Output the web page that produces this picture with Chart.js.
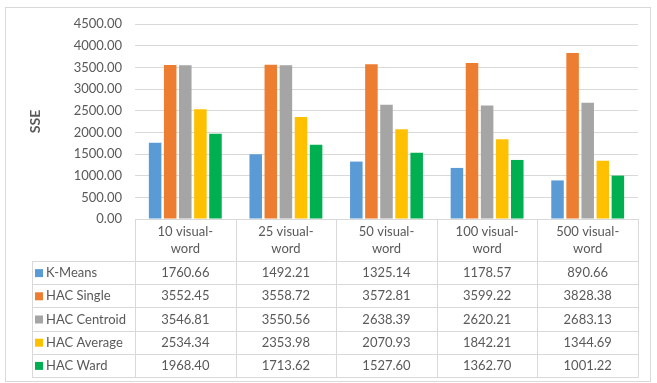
<!DOCTYPE html>
<html>
<head>
<meta charset="utf-8">
<script src="https://cdn.jsdelivr.net/npm/chart.js@4"></script>
<style>
  html, body { margin: 0; padding: 0; background: #fff; }
  #wrap { width: 657px; height: 383px; position: relative; }
</style>
</head>
<body>
<div id="wrap"><canvas id="sseChart"></canvas></div>
<script>
// data
const categories = [['10 visual-', 'word'], ['25 visual-', 'word'], ['50 visual-', 'word'], ['100 visual-', 'word'], ['500 visual-', 'word']];
const seriesNames = ['K-Means', 'HAC Single', 'HAC Centroid', 'HAC Average', 'HAC Ward'];
const kMeans = [1760.66, 1492.21, 1325.14, 1178.57, 890.66];
const hacSingle = [3552.45, 3558.72, 3572.81, 3599.22, 3828.38];
const hacCentroid = [3546.81, 3550.56, 2638.39, 2620.21, 2683.13];
const hacAverage = [2534.34, 2353.98, 2070.93, 1842.21, 1344.69];
const hacWard = [1968.40, 1713.62, 1527.60, 1362.70, 1001.22];
const yMin = 0, yMax = 4500, yStep = 500;

const colors = ['#5B9BD5', '#ED7D31', '#A5A5A5', '#FFC000', '#00B050'];
const allSeries = [kMeans, hacSingle, hacCentroid, hacAverage, hacWard];
const textColor = '#595959';
const lineColor = '#d9d9d9';
const fontFamily = 'Lato, "Open Sans", sans-serif';

// draws the Excel style data table under the plot + outer border
const dataTablePlugin = {
    id: 'dataTable',
    afterDraw(chart) {
        const ctx = chart.ctx;
        const x = chart.scales.x;
        const area = chart.chartArea;
        const n = categories.length;
        const colW = (area.right - area.left) / n;
        const headerTop = area.bottom;
        const headerBottom = headerTop + 42;
        const rowH = 23.2;
        const tableLeft = 32;
        const tableBottom = headerBottom + rowH * seriesNames.length;

        ctx.save();
        ctx.strokeStyle = lineColor;
        ctx.lineWidth = 1;

        // header verticals
        ctx.beginPath();
        for (let i = 0; i <= n; i++) {
            const px = Math.round(area.left + colW * i) + 0.5;
            ctx.moveTo(px, headerTop);
            ctx.lineTo(px, tableBottom);
        }
        ctx.moveTo(tableLeft + 0.5, headerBottom);
        ctx.lineTo(tableLeft + 0.5, tableBottom);
        for (let r = 0; r <= seriesNames.length; r++) {
            const py = Math.round(headerBottom + rowH * r) + 0.5;
            ctx.moveTo(tableLeft, py);
            ctx.lineTo(area.right + 0.5, py);
        }
        ctx.stroke();

        // outer chart border
        ctx.strokeRect(5.5, 7.5, 645, 374);

        ctx.fillStyle = textColor;
        ctx.font = '13px ' + fontFamily;
        ctx.textAlign = 'center';
        ctx.textBaseline = 'middle';

        // category headers
        categories.forEach((lines, i) => {
            const cx = x.getPixelForValue(i);
            lines.forEach((line, j) => {
                ctx.fillText(line, cx, headerTop + 13 + j * 17);
            });
        });

        // rows
        seriesNames.forEach((name, r) => {
            const cy = headerBottom + rowH * r + rowH / 2 + 0.5;
            ctx.fillStyle = colors[r];
            ctx.fillRect(35, cy - 4, 8, 8);
            ctx.fillStyle = textColor;
            ctx.textAlign = 'left';
            ctx.fillText(name, 46, cy);
            ctx.textAlign = 'center';
            allSeries[r].forEach((v, i) => {
                ctx.fillText(v.toFixed(2), x.getPixelForValue(i), cy);
            });
        });
        ctx.restore();
    }
};

const ctx = document.getElementById('sseChart').getContext('2d');
new Chart(ctx, {
    type: 'bar',
    data: {
        labels: categories.map(c => c.join('')),
        datasets: seriesNames.map((name, i) => ({
            label: name,
            data: allSeries[i],
            backgroundColor: colors[i],
            borderWidth: 0,
            categoryPercentage: 0.75,
            barPercentage: 0.83
        }))
    },
    options: {
        responsive: true,
        maintainAspectRatio: false,
        animation: false,
        layout: { padding: { left: 0, top: 24, right: 19, bottom: 164 } },
        plugins: {
            legend: { display: false },
            tooltip: { enabled: false }
        },
        scales: {
            x: { display: false },
            y: {
                min: yMin,
                max: yMax,
                ticks: {
                    stepSize: yStep,
                    padding: 13,
                    color: textColor,
                    font: { family: fontFamily, size: 13 },
                    callback: v => Number(v).toFixed(2)
                },
                grid: { color: lineColor, drawTicks: false },
                border: { display: false },
                title: {
                    display: true,
                    text: 'SSE',
                    color: textColor,
                    font: { family: fontFamily, size: 14, weight: 'bold' },
                    padding: { top: 27, bottom: 0 }
                },
                afterFit: s => { s.width = 135; }
            }
        }
    },
    plugins: [dataTablePlugin]
});
</script>
</body>
</html>
